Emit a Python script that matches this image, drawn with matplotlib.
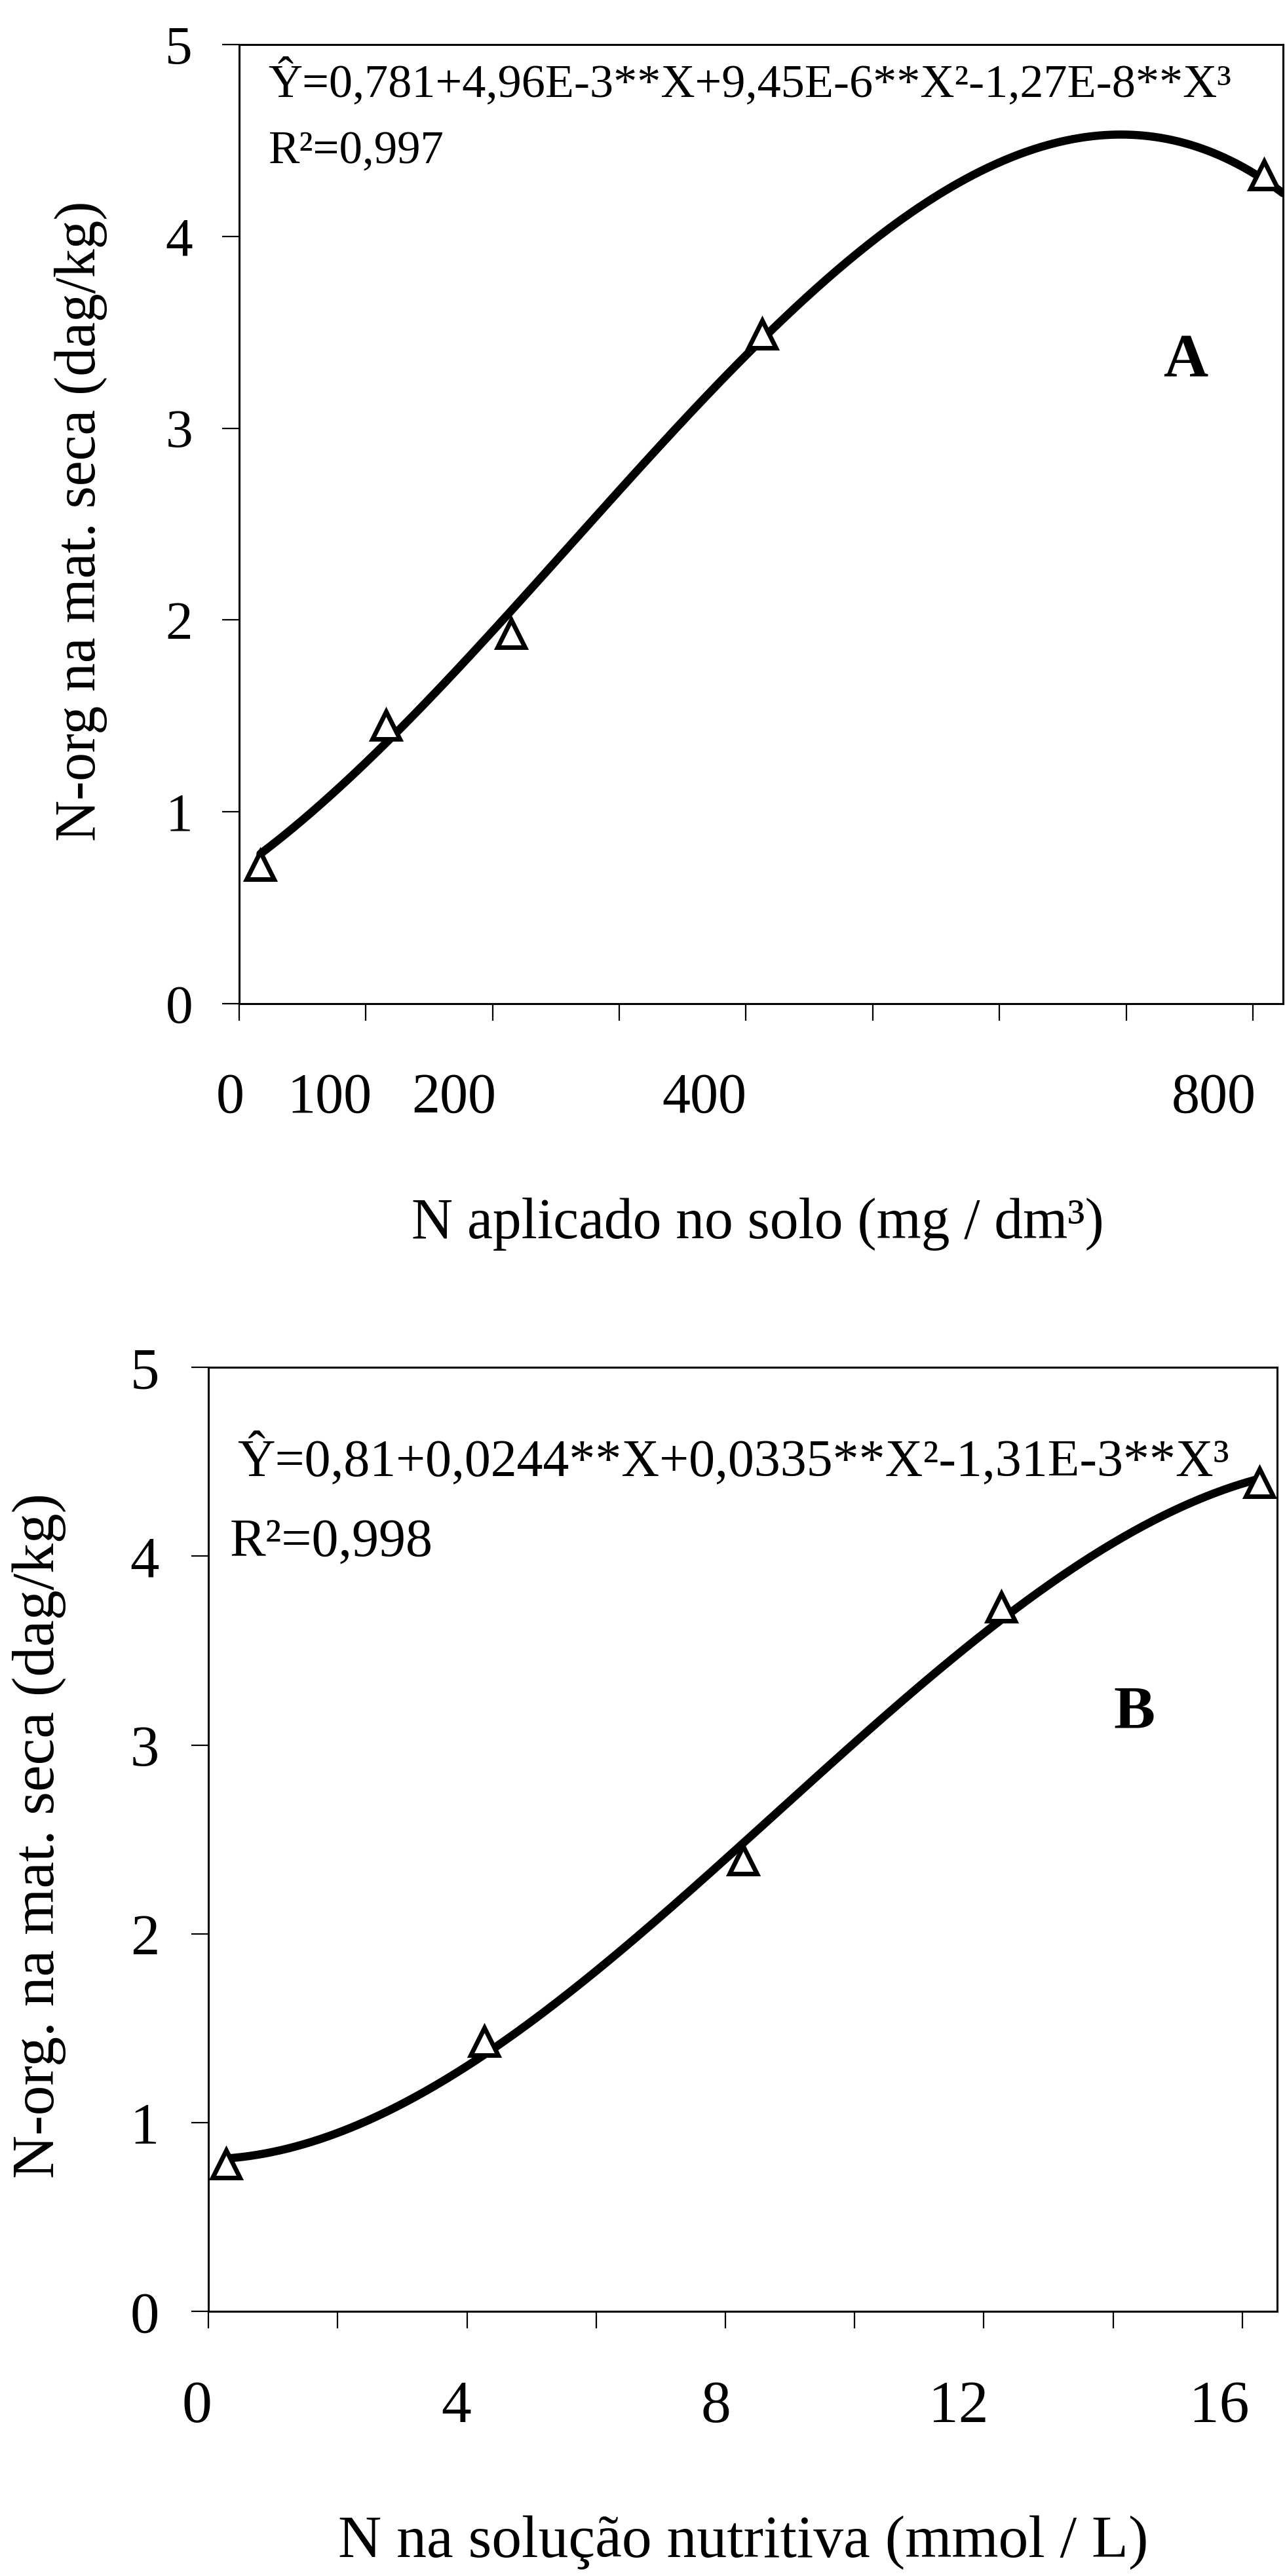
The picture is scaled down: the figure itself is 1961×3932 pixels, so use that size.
import numpy as np
import matplotlib.pyplot as plt

plt.rcParams['font.family'] = ['Liberation Serif', 'DejaVu Serif']

# Panel A: N applied to the soil
dose_a = [0, 100, 200, 400, 800]            # mg/dm3
norg_a = [0.72, 1.45, 1.93, 3.49, 4.32]     # dag/kg
coef_a = [0.781, 4.96e-3, 9.45e-6, -1.27e-8]
xlab_a = ['0', '100', '200', '400', '800']

# Panel B: N in the nutrient solution
conc_b = [0, 4, 8, 12, 16]                  # mmol/L
norg_b = [0.78, 1.43, 2.39, 3.73, 4.39]     # dag/kg
coef_b = [0.81, 0.0244, 0.0335, -1.31e-3]
xlab_b = ['0', '4', '8', '12', '16']

yticks = [0, 1, 2, 3, 4, 5]

eq_a = 'Ŷ=0,781+4,96E-3**X+9,45E-6**X²-1,27E-8**X³'
r2_a = 'R²=0,997'
eq_b = 'Ŷ=0,81+0,0244**X+0,0335**X²-1,31E-3**X³'
r2_b = 'R²=0,998'

# layout (the original tick marks sit a little left of the data)
ticks_a = np.arange(9) * 101 - 17
xlim_a = (-17, 815)
labpos_a = [-24, 55, 154, 354, 760]
ticks_b = np.arange(0, 17, 2) - 0.27
xlim_b = (-0.27, 16.27)
labpos_b = [-0.45, 3.56, 7.58, 11.34, 15.37]

fig = plt.figure(figsize=(19.61, 39.32), dpi=100)
axA = fig.add_axes([0.1861, 0.6104, 0.8123, 0.3723])
axB = fig.add_axes([0.1622, 0.1027, 0.8317, 0.3665])


def style(ax, xlim, ticks, ysize, pad):
    ax.set_xlim(*xlim)
    ax.set_ylim(0, 5)
    ax.set_xticks(ticks)
    ax.set_xticklabels([])
    ax.set_yticks(yticks)
    ax.tick_params(direction='out', length=19, width=1.6, pad=pad,
                   labelsize=ysize)
    for s in ax.spines.values():
        s.set_linewidth(2.2)


def draw(ax, xs, ys, coef, x_end):
    xc = np.linspace(xs[0], x_end, 400)
    yc = np.polynomial.polynomial.polyval(xc, coef)
    ax.plot(xc, yc, color='black', lw=9, solid_capstyle='round', zorder=2)
    ax.plot(xs, ys, linestyle='none', marker='^', ms=30, mew=5,
            mfc='white', mec='black', zorder=3, clip_on=False)


# Panel A
style(axA, xlim_a, ticks_a, 60, 32)
draw(axA, dose_a, norg_a, coef_a, xlim_a[1])
for pos, lab in zip(labpos_a, xlab_a):
    axA.text(pos, -0.099, lab, transform=axA.get_xaxis_transform(),
             ha='center', va='center', fontsize=62)
axA.text(0.028, 0.946, eq_a, transform=axA.transAxes, fontsize=52,
         ha='left', va='baseline')
axA.text(0.028, 0.876, r2_a, transform=axA.transAxes, fontsize=51,
         ha='left', va='baseline')
axA.text(0.907, 0.654, 'A', transform=axA.transAxes, fontsize=68,
         fontweight='bold', ha='center', va='baseline')

# Panel B
style(axB, xlim_b, ticks_b, 64, 35)
draw(axB, conc_b, norg_b, coef_b, conc_b[-1])
for pos, lab in zip(labpos_b, xlab_b):
    axB.text(pos, -0.102, lab, transform=axB.get_xaxis_transform(),
             ha='center', va='center', fontsize=66)
axB.text(0.027, 0.885, eq_b, transform=axB.transAxes, fontsize=57.5,
         ha='left', va='baseline')
axB.text(0.02, 0.80, r2_b, transform=axB.transAxes, fontsize=59,
         ha='left', va='baseline')
axB.text(0.866, 0.618, 'B', transform=axB.transAxes, fontsize=68,
         fontweight='bold', ha='center', va='baseline')

# axis titles
fig.text(0.5895, 0.5193, 'N aplicado no solo (mg / dm³)', fontsize=63,
         ha='center', va='baseline')
fig.text(0.0632, 0.7978, 'N-org na mat. seca (dag/kg)', fontsize=63,
         rotation=90, ha='center', va='center')
fig.text(0.5785, 0.0076, 'N na solução nutritiva (mmol / L)', fontsize=66,
         ha='center', va='baseline')
fig.text(0.0306, 0.2874, 'N-org. na mat. seca (dag/kg)', fontsize=66,
         rotation=90, ha='center', va='center')

fig.savefig('out.png', dpi=100)
